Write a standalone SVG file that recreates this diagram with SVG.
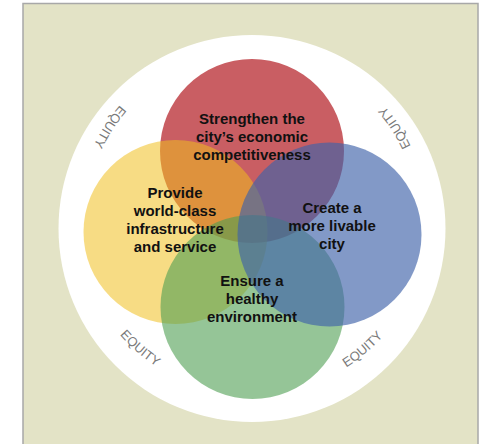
<svg xmlns="http://www.w3.org/2000/svg" xmlns:xlink="http://www.w3.org/1999/xlink" width="480" height="444" viewBox="0 0 480 444">
<style>
.lbl{font-family:"Liberation Sans",Arial,sans-serif;font-weight:bold;font-size:15px;fill:#111;text-anchor:middle}
.eq{font-family:"Liberation Sans",Arial,sans-serif;font-size:13px;fill:#7a7a7a;text-anchor:middle}
</style>
<defs>
<path id="ring" d="M427,220 A175,175 0 1 0 77,220 A175,175 0 1 0 427,220"/>
</defs>
<rect x="0" y="0" width="480" height="444" fill="#ffffff"/>
<rect x="23" y="3.5" width="455" height="445" fill="#e3e3c6" stroke="#a8a8a8" stroke-width="1.5"/>
<circle cx="252" cy="228.5" r="193.5" fill="#ffffff"/>
<g id="equity-labels">
<text class="eq"><textPath xlink:href="#ring" href="#ring" startOffset="100.2">EQUITY</textPath></text>
<text class="eq"><textPath xlink:href="#ring" href="#ring" startOffset="448.4">EQUITY</textPath></text>
<text class="eq"><textPath xlink:href="#ring" href="#ring" startOffset="698.9">EQUITY</textPath></text>
<text class="eq"><textPath xlink:href="#ring" href="#ring" startOffset="948.1">EQUITY</textPath></text>
</g>
<g id="node-economic"><circle cx="252" cy="151" r="92" fill="#c95e63"/></g>
<g id="node-infrastructure"><circle cx="175.5" cy="232" r="92" fill="rgb(240,191,29)" fill-opacity="0.545"/></g>
<g id="node-environment"><circle cx="252.5" cy="307" r="92" fill="rgb(78,158,82)" fill-opacity="0.6"/></g>
<g id="node-livable"><circle cx="329.5" cy="234.5" r="92" fill="rgb(63,98,169)" fill-opacity="0.65"/></g>
<g id="connectors"></g>
<g id="label-economic">
<text class="lbl" x="252" y="124">Strengthen the</text>
<text class="lbl" x="252" y="142">city’s economic</text>
<text class="lbl" x="252" y="160">competitiveness</text>
</g>
<g id="label-infrastructure">
<text class="lbl" x="175" y="198">Provide</text>
<text class="lbl" x="175" y="216">world-class</text>
<text class="lbl" x="175" y="234">infrastructure</text>
<text class="lbl" x="175" y="252">and service</text>
</g>
<g id="label-livable">
<text class="lbl" x="332" y="213">Create a</text>
<text class="lbl" x="332" y="231">more livable</text>
<text class="lbl" x="332" y="249">city</text>
</g>
<g id="label-environment">
<text class="lbl" x="252" y="286">Ensure a</text>
<text class="lbl" x="252" y="304">healthy</text>
<text class="lbl" x="252" y="322">environment</text>
</g>
</svg>
